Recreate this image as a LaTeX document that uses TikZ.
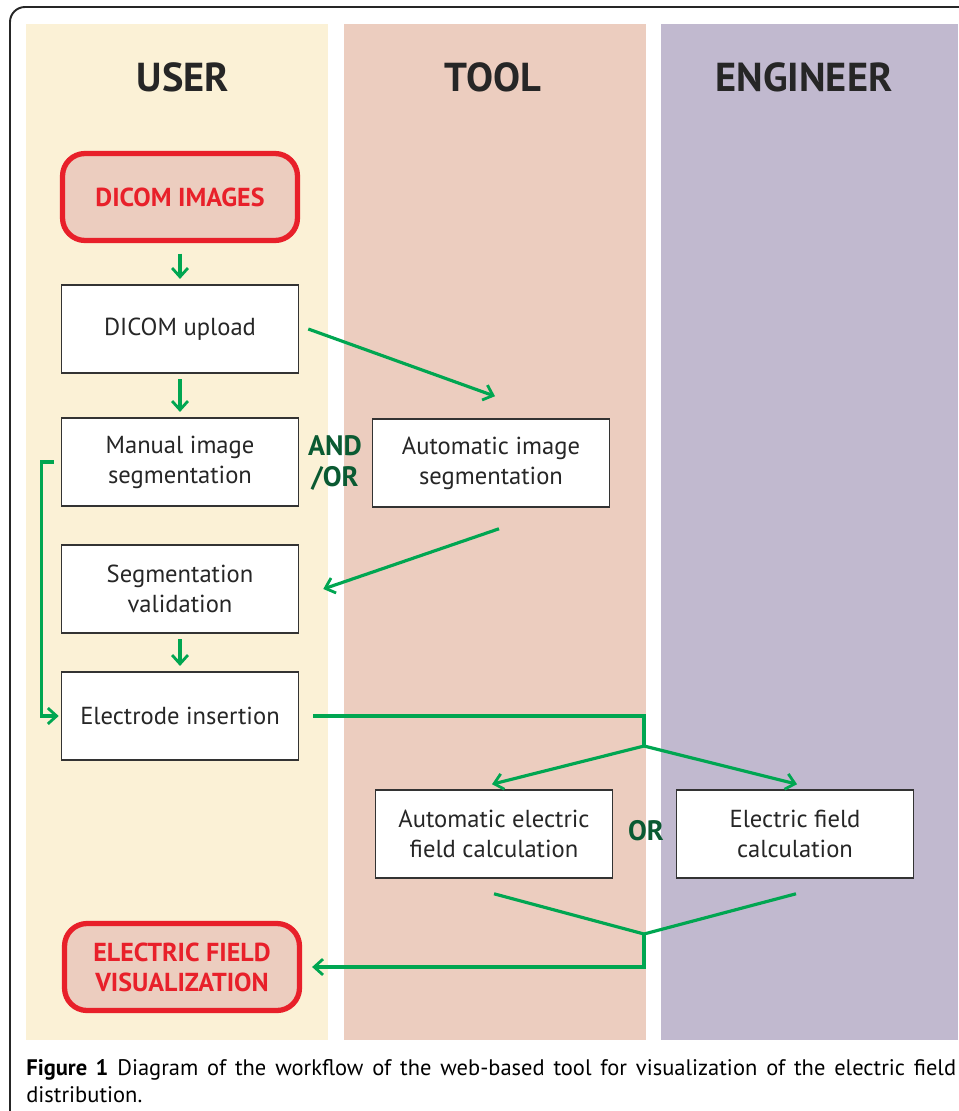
\documentclass[tikz,border=0pt]{standalone}
\usepackage{fontspec}
\setmainfont{PT Sans}
\usetikzlibrary{arrows.meta}
\definecolor{usercol}{RGB}{251,241,214}
\definecolor{toolcol}{RGB}{236,205,191}
\definecolor{engcol}{RGB}{193,185,207}
\definecolor{flowgreen}{RGB}{0,166,81}
\definecolor{darkgreen}{RGB}{10,90,50}
\definecolor{termred}{RGB}{232,32,42}
\tikzset{
  lane/.style={fill=#1,draw=none},
  lanehead/.style={font=\bfseries\fontsize{23}{26}\selectfont,text=black!85},
  stepbox/.style={draw=black!80,line width=0.9pt,fill=white,minimum width=4.74cm,
    minimum height=1.76cm,align=center,font=\fontsize{14}{17}\selectfont,text=black!85},
  termbox/.style={draw=termred,line width=3pt,fill=toolcol,rounded corners=0.45cm,
    minimum width=4.7cm,minimum height=1.74cm,align=center,
    font=\bfseries\fontsize{14.8}{17}\selectfont,text=termred},
  flow/.style={draw=flowgreen,line width=1.8pt,-{Straight Barb[length=5pt,width=9pt,line width=1.6pt]}},
  plain/.style={draw=flowgreen,line width=1.8pt},
  choice/.style={font=\bfseries\fontsize{16}{18}\selectfont,text=darkgreen,align=center}
}
\begin{document}
\begin{tikzpicture}[x=0.02cm,y=-0.02cm]
\useasboundingbox (0,0) rectangle (958,1111);
\fill[white] (0,0) rectangle (958,1111);
% swim lanes
\fill[lane=usercol] (26,24) rectangle (328,1040);
\fill[lane=toolcol] (344,24) rectangle (646,1040);
\fill[lane=engcol] (661,24) rectangle (958,1040);
\draw[black!85,line width=1.1pt,rounded corners=0.3cm] (10,7) rectangle (990,1140);
\node[lanehead] (huser) at (183,77) {USER};
\node[lanehead] (htool) at (493,77) {TOOL};
\node[lanehead] (heng) at (804,77) {ENGINEER};
% steps
\node[termbox] (dicom) at (180,197) {DICOM IMAGES};
\node[stepbox] (upload) at (180,329) {DICOM upload};
\node[stepbox] (manual) at (180,462) {Manual image\\segmentation};
\node[stepbox] (autoseg) at (491,463) {Automatic image\\segmentation};
\node[stepbox] (valid) at (180,589) {Segmentation\\validation};
\node[stepbox] (elec) at (180,716) {Electrode insertion};
\node[stepbox] (autofield) at (494,834) {Automatic electric\\field calculation};
\node[stepbox] (engfield) at (795,834) {Electric field\\calculation};
\node[termbox] (vis) at (182,967) {ELECTRIC FIELD\\VISUALIZATION};
\node[choice] (andor) at (335,463) {AND\\/OR};
\node[choice] (orl) at (646,831) {OR};
\coordinate (split) at (644,746);
\coordinate (merge) at (644,934);
% connectors
\draw[flow,shorten <=6pt,shorten >=3pt] (dicom.south) -- (upload.north);
\draw[flow,shorten <=3pt,shorten >=3pt] (upload.south) -- (manual.north);
\draw[flow,shorten <=3pt,shorten >=3pt] (valid.south) -- (elec.north);
\draw[flow] ([xshift=0.18cm]upload.east) -- ([xshift=0.08cm,yshift=0.44cm]autoseg.north);
\draw[flow] ([xshift=0.16cm,yshift=-0.42cm]autoseg.south) -- ([xshift=0.48cm]valid.east);
\draw[flow] ([xshift=-0.14cm]manual.west) -- ++(-12,0) |- ([xshift=-0.04cm]elec.west);
\draw[plain] ([xshift=0.28cm]elec.east) -| (split);
\draw[flow] (split) -- ([xshift=-0.04cm,yshift=0.1cm]autofield.north);
\draw[flow] (split) -- ([xshift=0.04cm,yshift=0.1cm]engfield.north);
\draw[plain] ([yshift=-0.3cm]autofield.south) -- (merge) -- ([xshift=0.02cm,yshift=-0.3cm]engfield.south);
\draw[flow] (merge) |- ([xshift=0.2cm]vis.east);
% caption
\node[anchor=north west,text width=18.6cm,align=justify,inner sep=0pt,
  font=\fontsize{12.8}{15.4}\selectfont,text=black] (caption) at (26,1059)
  {\textbf{Figure 1} Diagram of the workflow of the web-based tool for visualization of the electric field\linebreak distribution.};
\end{tikzpicture}
\end{document}
